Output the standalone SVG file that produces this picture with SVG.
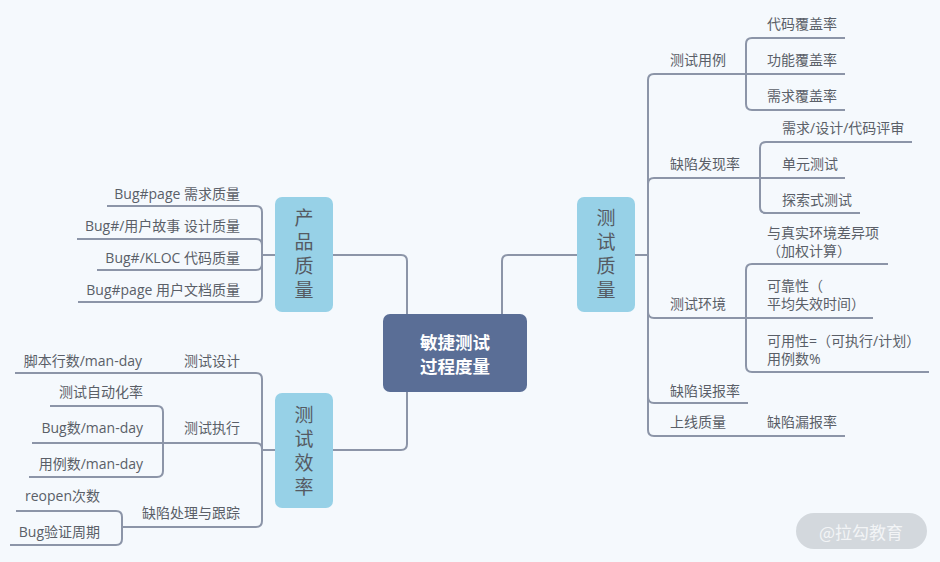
<svg xmlns="http://www.w3.org/2000/svg" width="940" height="562" viewBox="0 0 940 562">
<style>
.bg{fill:#f5f9fd}
.ln{fill:none;stroke:#8c95a8;stroke-width:2}
.t{font-family:"Open Sans","Noto Sans CJK SC",sans-serif;font-size:14px;fill:#5a5f68;dominant-baseline:central}
.e{text-anchor:end}
.box{fill:#97d1e7}
.bt{font-family:"Noto Sans CJK SC",sans-serif;font-size:19px;fill:#555a62;writing-mode:vertical-rl;text-orientation:upright;letter-spacing:5px}
.ct{font-family:"Noto Sans CJK SC",sans-serif;font-size:17.5px;font-weight:bold;fill:#ffffff;text-anchor:middle;dominant-baseline:central}
</style>
<rect class="bg" x="0" y="0" width="940" height="562"/>
<g id="connectors">
<path class="ln" d="M333,255 H401 Q407,255 407,261 V314"/>
<path class="ln" d="M407,392 V444 Q407,450 401,450 H333"/>
<path class="ln" d="M502,314 V261 Q502,255 508,255 H577"/>
<path class="ln" d="M275,255 H262"/>
<path class="ln" d="M262,255 V212 Q262,206 256,206 H107"/>
<path class="ln" d="M262,255 V245 Q262,239 256,239 H77"/>
<path class="ln" d="M262,255 V264 Q262,270 256,270 H97"/>
<path class="ln" d="M262,255 V296 Q262,302 256,302 H78"/>
<path class="ln" d="M275,450 H262"/>
<path class="ln" d="M262,450 V379 Q262,373 256,373 H15"/>
<path class="ln" d="M262,450 V449 Q262,443 256,443 H32"/>
<path class="ln" d="M163,443 V412 Q163,406 157,406 H50"/>
<path class="ln" d="M163,443 V471 Q163,477 157,477 H29"/>
<path class="ln" d="M262,450 V521 Q262,527 256,527 H122"/>
<path class="ln" d="M122,527 V517 Q122,511 116,511 H16"/>
<path class="ln" d="M122,527 V539 Q122,545 116,545 H10"/>
<path class="ln" d="M635,255 H648"/>
<path class="ln" d="M648,255 V80 Q648,74 654,74 H746"/>
<path class="ln" d="M746,74 V44 Q746,38 752,38 H845"/>
<path class="ln" d="M746,74 H845"/>
<path class="ln" d="M746,74 V104 Q746,110 752,110 H845"/>
<path class="ln" d="M648,255 V184 Q648,178 654,178 H760"/>
<path class="ln" d="M760,178 V148 Q760,142 766,142 H912"/>
<path class="ln" d="M760,178 H845"/>
<path class="ln" d="M760,178 V207 Q760,213 766,213 H860"/>
<path class="ln" d="M648,255 V312 Q648,318 654,318 H746"/>
<path class="ln" d="M746,318 V270 Q746,264 752,264 H888"/>
<path class="ln" d="M746,318 H873"/>
<path class="ln" d="M746,318 V366 Q746,372 752,372 H929"/>
<path class="ln" d="M648,255 V397 Q648,403 654,403 H748"/>
<path class="ln" d="M648,255 V430 Q648,436 654,436 H845"/>
</g>
<g id="center">
<rect x="383" y="314" width="144" height="78" rx="7" fill="#5a6e96"/>
<text class="ct" x="455" y="341">敏捷测试</text>
<text class="ct" x="455" y="365">过程度量</text>
</g>
<g id="product-quality">
<rect class="box" x="275" y="197" width="58" height="115" rx="7"/>
<text class="bt" x="304" y="208">产品质量</text>
</g>
<g id="test-efficiency">
<rect class="box" x="275" y="393" width="58" height="115" rx="7"/>
<text class="bt" x="304" y="405">测试效率</text>
</g>
<g id="test-quality">
<rect class="box" x="577" y="197" width="58" height="115" rx="7"/>
<text class="bt" x="606" y="208">测试质量</text>
</g>
<g id="pq-leaves">
<text class="t e" x="240" y="193">Bug#page 需求质量</text>
<text class="t e" x="240" y="225">Bug#/用户故事 设计质量</text>
<text class="t e" x="240" y="257">Bug#/KLOC 代码质量</text>
<text class="t e" x="240" y="289">Bug#page 用户文档质量</text>
</g>
<g id="te-design">
<text class="t e" x="240" y="360">测试设计</text>
<text class="t e" x="142" y="360">脚本行数/man-day</text>
</g>
<g id="te-exec">
<text class="t e" x="240" y="427">测试执行</text>
<text class="t e" x="143" y="391">测试自动化率</text>
<text class="t e" x="143" y="427">Bug数/man-day</text>
<text class="t e" x="143" y="463">用例数/man-day</text>
</g>
<g id="te-defect">
<text class="t e" x="240" y="512">缺陷处理与跟踪</text>
<text class="t e" x="100" y="495">reopen次数</text>
<text class="t e" x="100" y="531">Bug验证周期</text>
</g>
<g id="tq-cases">
<text class="t" x="670" y="59">测试用例</text>
<text class="t" x="767" y="23">代码覆盖率</text>
<text class="t" x="767" y="59">功能覆盖率</text>
<text class="t" x="767" y="95">需求覆盖率</text>
</g>
<g id="tq-discovery">
<text class="t" x="670" y="163">缺陷发现率</text>
<text class="t" x="782" y="127">需求/设计/代码评审</text>
<text class="t" x="782" y="163">单元测试</text>
<text class="t" x="782" y="199">探索式测试</text>
</g>
<g id="tq-env">
<text class="t" x="670" y="303">测试环境</text>
<text class="t" x="767" y="232">与真实环境差异项<tspan x="767" dy="18">（加权计算）</tspan></text>
<text class="t" x="767" y="285">可靠性（<tspan x="767" dy="18">平均失效时间）</tspan></text>
<text class="t" x="767" y="340">可用性=（可执行/计划）<tspan x="767" dy="18">用例数%</tspan></text>
</g>
<g id="tq-false">
<text class="t" x="670" y="390">缺陷误报率</text>
</g>
<g id="tq-online">
<text class="t" x="670" y="421">上线质量</text>
<text class="t" x="767" y="421">缺陷漏报率</text>
</g>
<g id="watermark">
<rect x="796" y="513" width="131" height="36" rx="18" fill="#d3d8dd"/>
<text x="861" y="531" font-family="Noto Sans CJK SC,sans-serif" font-size="17" fill="#f2f4f6" text-anchor="middle" dominant-baseline="central">@拉勾教育</text>
</g>
</svg>
